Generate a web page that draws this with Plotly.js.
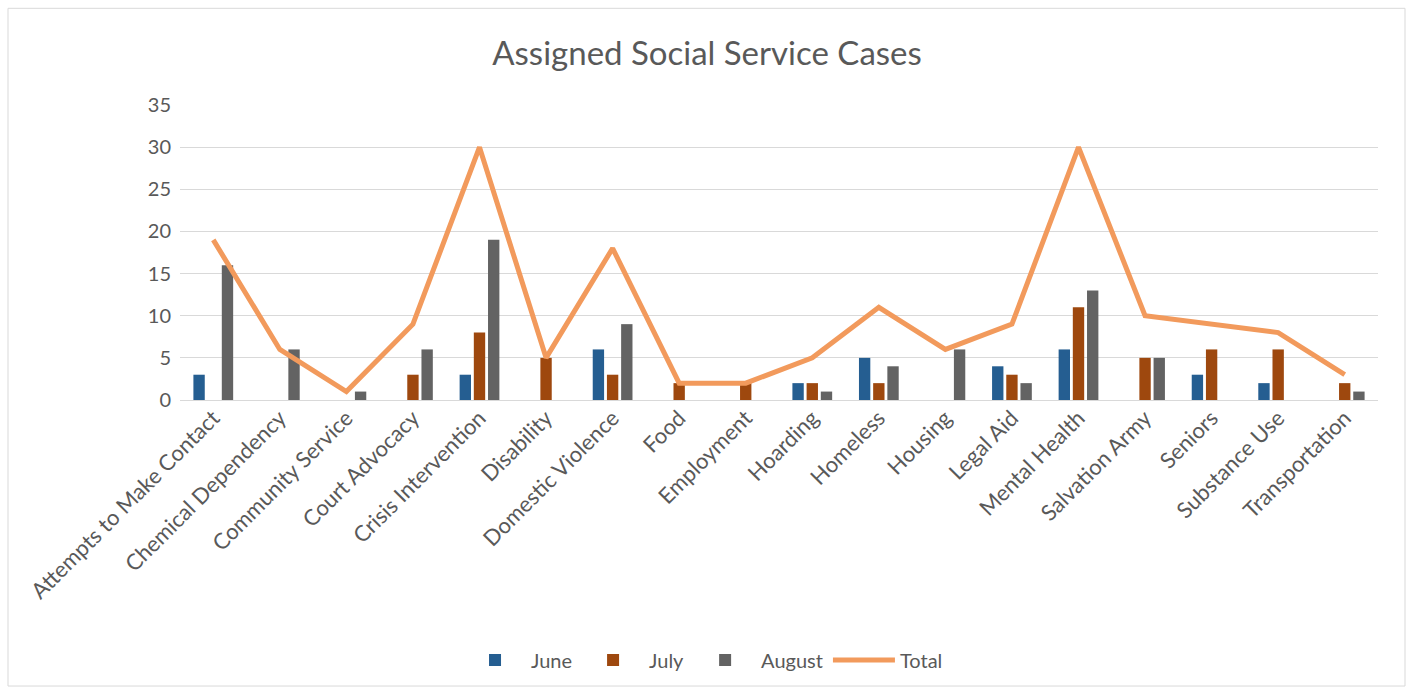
<!DOCTYPE html>
<html>
<head>
<meta charset="utf-8">
<script src="https://cdn.plot.ly/plotly-3.0.1.min.js"></script>
<style>
html,body{margin:0;padding:0;background:#fff;}
#chart{width:1414px;height:690px;}
</style>
</head>
<body>
<div id="chart"></div>
<script>
const categories = ["Attempts to Make Contact","Chemical Dependency","Community Service","Court Advocacy","Crisis Intervention","Disability","Domestic Violence","Food","Employment","Hoarding","Homeless","Housing","Legal Aid","Mental Health","Salvation Army","Seniors","Substance Use","Transportation"];
const june   = [3, 0, 0, 0, 3, 0, 6, 0, 0, 2, 5, 0, 4, 6, 0, 3, 2, 0];
const july   = [0, 0, 0, 3, 8, 5, 3, 2, 2, 2, 2, 0, 3, 11, 5, 6, 6, 2];
const august = [16, 6, 1, 6, 19, 0, 9, 0, 0, 1, 4, 6, 2, 13, 5, 0, 0, 1];
const total  = [19, 6, 1, 9, 30, 5, 18, 2, 2, 5, 11, 6, 9, 30, 10, 9, 8, 3];
const yTicks = [0, 5, 10, 15, 20, 25, 30, 35];

const font = "Lato, 'Open Sans', sans-serif";
const textColor = "#595959";

const traces = [
  {type:"bar", name:"June", x:categories, y:june, marker:{color:"#255E91"}},
  {type:"bar", name:"July", x:categories, y:july, marker:{color:"#9E480E"}},
  {type:"bar", name:"August", x:categories, y:august, marker:{color:"#636363"}},
  {type:"scatter", mode:"lines", name:"Total", x:categories, y:total,
   line:{color:"#F29A5C", width:5}}
];

const layout = {
  width:1414, height:690,
  margin:{l:180, r:36, t:105, b:289},
  paper_bgcolor:"#fff", plot_bgcolor:"#fff",
  font:{family:font, color:textColor, size:18},
  title:{text:"Assigned Social Service Cases", x:0.5, xanchor:"center", y:0.923, yanchor:"middle",
         font:{family:font, size:33, color:textColor}},
  barmode:"group", bargap:0.36, bargroupgap:0.2,
  showlegend:true,
  legend:{orientation:"h", x:0.437, xanchor:"center", y:-0.875, yanchor:"middle",
          font:{family:font, size:20, color:textColor}, traceorder:"normal", itemwidth:62},
  xaxis:{type:"category", tickangle:-45, showgrid:false, showline:false, ticks:"",
         automargin:false, tickfont:{family:font, size:22, color:textColor}},
  yaxis:{range:[0,35], tickvals:yTicks, showgrid:true, gridcolor:"#D9D9D9", gridwidth:1,
         zeroline:true, zerolinecolor:"#D9D9D9", zerolinewidth:1, showline:false, ticks:"",
         automargin:false, ticklabelstandoff:8,
         tickfont:{family:font, size:20, color:textColor}},
  shapes:[{type:"rect", xref:"paper", yref:"paper",
           x0:(8-180)/1198, x1:(1405-180)/1198, y0:(401-688)/296, y1:(401-8)/296,
           line:{color:"#D9D9D9", width:1}, fillcolor:"rgba(0,0,0,0)", layer:"below"}]
};

Plotly.newPlot("chart", traces, layout, {displayModeBar:false, staticPlot:true});
</script>
</body>
</html>
